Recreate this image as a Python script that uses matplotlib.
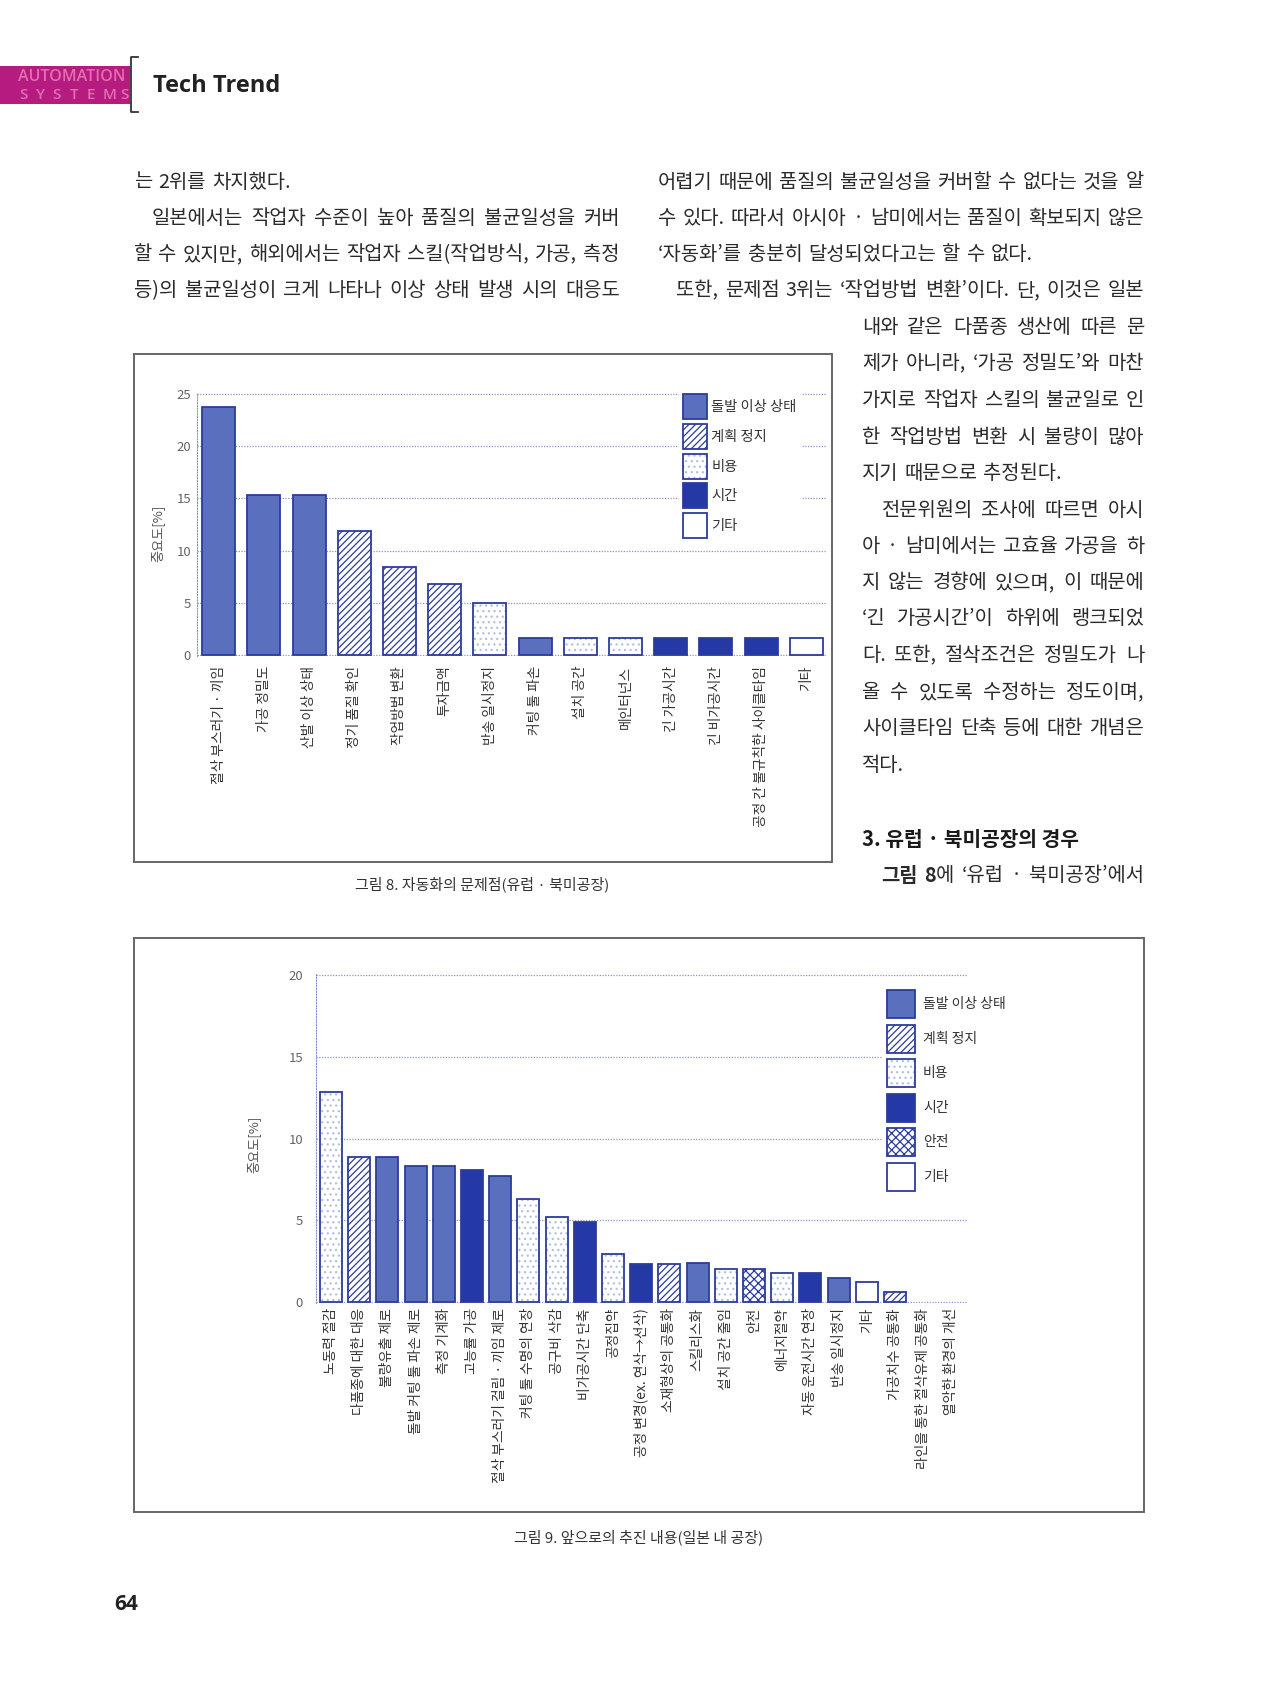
import matplotlib
matplotlib.use('Agg')
import numpy as np
import matplotlib.pyplot as plt
from matplotlib.patches import Patch, Rectangle
from matplotlib.lines import Line2D

plt.rcParams['font.family'] = ['Noto Sans CJK KR', 'DejaVu Sans']
plt.rcParams['hatch.linewidth'] = 0.9

W, H = 1279, 1705

# ---- figure 8: problems of automation (Europe / North America)
cats8 = ['절삭 부스러기 · 끼임', '가공 정밀도', '산발 이상 상태', '정기 품질 확인', '작업방법 변환',
         '투자금액', '반송 일시정지', '커팅 툴 파손', '설치 공간', '메인터넌스', '긴 가공시간',
         '긴 비가공시간', '공정 간 불규칙한 사이클타임', '기타']
vals8 = [23.7, 15.3, 15.3, 11.9, 8.45, 6.8, 5.0, 1.65, 1.65, 1.65, 1.65, 1.65, 1.65, 1.65]
kind8 = ['돌발 이상 상태', '돌발 이상 상태', '돌발 이상 상태', '계획 정지', '계획 정지', '계획 정지',
         '비용', '돌발 이상 상태', '비용', '비용', '시간', '시간', '시간', '기타']
legend8 = ['돌발 이상 상태', '계획 정지', '비용', '시간', '기타']

# ---- figure 9: future measures (factories in Japan)
cats9 = ['노동력 절감', '다품종에 대한 대응', '불량유출 제로', '돌발 커팅 툴 파손 제로', '측정 기계화',
         '고능률 가공', '절삭 부스러기 걸림 · 끼임 제로', '커팅 툴 수명의 연장', '공구비 삭감',
         '비가공시간 단축', '공정집약', '공정 변경(ex. 연삭→선삭)', '소재형상의 공통화', '스킬리스화',
         '설치 공간 줄임', '안전', '에너지절약', '자동 운전시간 연장', '반송 일시정지', '기타',
         '가공치수 공통화', '라인을 통한 절삭유제 공통화', '열악한 환경의 개선']
vals9 = [12.85, 8.87, 8.87, 8.3, 8.3, 8.04, 7.73, 6.32, 5.16, 4.9, 2.9, 2.33, 2.29, 2.35,
         2.02, 2.02, 1.76, 1.76, 1.48, 1.19, 0.59, 0.0, 0.0]
kind9 = ['비용', '계획 정지', '돌발 이상 상태', '돌발 이상 상태', '돌발 이상 상태', '시간',
         '돌발 이상 상태', '비용', '비용', '시간', '비용', '시간', '계획 정지', '돌발 이상 상태',
         '비용', '안전', '비용', '시간', '돌발 이상 상태', '기타', '계획 정지', '계획 정지', '기타']
legend9 = ['돌발 이상 상태', '계획 정지', '비용', '시간', '안전', '기타']

EDGE = '#2c3c9c'
styles = {
    '돌발 이상 상태': dict(face='#5b6fbf', hatch=None, hc='#5b6fbf'),
    '계획 정지': dict(face='white', hatch='/////', hc='#2c3c9c'),
    '비용': dict(face='white', hatch='...', hc='#b4bfe3'),
    '시간': dict(face='#2539a6', hatch=None, hc='#2539a6'),
    '안전': dict(face='white', hatch='xxxx', hc='#2c3c9c'),
    '기타': dict(face='white', hatch=None, hc='white'),
}
GRID = '#8595cc'
TXT = '#2a2a2a'

fig = plt.figure(figsize=(W / 100, H / 100), dpi=100)
fig.patch.set_facecolor('white')


def fx(x):
    return x / W


def fy(y):
    return 1 - y / H


def draw_bars(ax, vals, kinds, width):
    x = np.arange(len(vals))
    vals = np.array(vals)
    kinds = np.array(kinds)
    for k, st in styles.items():
        m = (kinds == k) & (vals > 0)
        if m.any():
            ax.bar(x[m], vals[m], width=width, color=st['face'], edgecolor=st['hc'],
                   linewidth=0, hatch=st['hatch'], zorder=2)
    m = vals > 0
    ax.bar(x[m], vals[m], width=width, color='none', edgecolor=EDGE, linewidth=1.3, zorder=3)


def handles(keys):
    hs = []
    for k in keys:
        st = styles[k]
        fill = Patch(facecolor=st['face'], edgecolor=st['hc'], linewidth=0, hatch=st['hatch'])
        out = Patch(facecolor='none', edgecolor=EDGE, linewidth=1.3)
        hs.append((fill, out))
    return hs


def style_axes(ax, ymax, ypad, xpad, xsize):
    ax.set_ylim(-0.08, ymax + 0.08)
    ax.set_yticks(np.arange(0, ymax + 1, 5))
    ax.yaxis.grid(True, color=GRID, linestyle=(0, (1, 1.2)), linewidth=0.9)
    ax.set_axisbelow(True)
    for s in ['top', 'right', 'bottom']:
        ax.spines[s].set_visible(False)
    ax.spines['left'].set_color(GRID)
    ax.spines['left'].set_linestyle((0, (1, 1.5)))
    ax.spines['left'].set_linewidth(0.8)
    ax.tick_params(axis='y', length=0, labelsize=9.5, labelcolor='#666', pad=ypad)
    ax.tick_params(axis='x', length=0, labelsize=xsize, labelcolor='#333', pad=xpad,
                   labelrotation=90)
    ax.set_facecolor('none')


# ---------------- header
fig.add_artist(Rectangle((0, fy(104)), fx(130), 38 / H, transform=fig.transFigure,
                         color='#b61b80', lw=0))
fig.text(fx(18), fy(77), 'AUTOMATION', color='#e070b2', fontsize=11.5, weight='semibold',
         family='Open Sans', va='center')
for i, ch in enumerate('SYSTEMS'):
    fig.text(fx(19 + i * 16.8), fy(95), ch, color='#e070b2', fontsize=11, weight='semibold',
             family='Open Sans', va='center')
fig.add_artist(Line2D([fx(138), fx(131), fx(131), fx(138)], [fy(57), fy(57), fy(112), fy(112)],
                      transform=fig.transFigure, color='#333', lw=1.3))
fig.text(fx(153), fy(86), 'Tech Trend', fontsize=17, weight='bold', family='Open Sans',
         va='center', color='#222')
fig.text(fx(114), fy(1605), '64', fontsize=15, weight='bold', family='Open Sans',
         va='center', color='#222')

# ---------------- body text (justified)
FS = 14.3
r = fig.canvas.get_renderer()


def tw(s, wt):
    t = fig.text(0, 0, s, fontsize=FS, weight=wt)
    w = t.get_window_extent(renderer=r).width
    t.remove()
    return w


def body(words, x0, y, x1=None):
    ws = [w if isinstance(w, list) else [(w, 'normal')] for w in words]
    wd = [[tw(s, wt) for s, wt in w] for w in ws]
    tot = [sum(a) for a in wd]
    gap = FS * 1.39 * 0.3 if x1 is None else (x1 - x0 - sum(tot)) / (len(ws) - 1)
    x = x0
    for w, d in zip(ws, wd):
        for (s, wt), dd in zip(w, d):
            fig.text(fx(x), fy(y), s, fontsize=FS, weight=wt, color=TXT, va='center', ha='left')
            x += dd
        x += gap


body('는 2위를 차지했다.'.split(), 134, 182)
body('일본에서는 작업자 수준이 높아 품질의 불균일성을 커버'.split(), 152, 218.6, 620)
body('할 수 있지만, 해외에서는 작업자 스킬(작업방식, 가공, 측정'.split(), 134, 254.5, 620)
body('등)의 불균일성이 크게 나타나 이상 상태 발생 시의 대응도'.split(), 134, 290.4, 620)

body('어렵기 때문에 품질의 불균일성을 커버할 수 없다는 것을 알'.split(), 658, 182, 1144)
body('수 있다. 따라서 아시아 · 남미에서는 품질이 확보되지 않은'.split(), 658, 218.6, 1144)
body('‘자동화’를 충분히 달성되었다고는 할 수 없다.'.split(), 658, 254.5)
body('또한, 문제점 3위는 ‘작업방법 변환’이다. 단, 이것은 일본'.split(), 676, 290.4, 1144)

narrow = [
    ('내와 같은 다품종 생산에 따른 문', 862, 327.4, True),
    ('제가 아니라, ‘가공 정밀도’와 마찬', 862, 363.3, True),
    ('가지로 작업자 스킬의 불균일로 인', 862, 400.2, True),
    ('한 작업방법 변환 시 불량이 많아', 862, 437.2, True),
    ('지기 때문으로 추정된다.', 862, 473.1, False),
    ('전문위원의 조사에 따르면 아시', 882, 510.1, True),
    ('아 · 남미에서는 고효율 가공을 하', 862, 546, True),
    ('지 않는 경향에 있으며, 이 때문에', 862, 583, True),
    ('‘긴 가공시간’이 하위에 랭크되었', 862, 618.8, True),
    ('다. 또한, 절삭조건은 정밀도가 나', 862, 655.8, True),
    ('올 수 있도록 수정하는 정도이며,', 862, 692.8, True),
    ('사이클타임 단축 등에 대한 개념은', 862, 728.7, True),
    ('적다.', 862, 765.7, False),
]
for s, x0, y, just in narrow:
    body(s.split(), x0, y, 1144 if just else None)

fig.text(fx(862), fy(839.6), '3. 유럽 · 북미공장의 경우', fontsize=14.6, weight='bold',
         color='#1a1a1a', va='center')
body([[('그림', 'bold')], [('8', 'bold'), ('에', 'normal')], '‘유럽', '·', '북미공장’에서'],
     881, 875.5, 1144)

# ---------------- chart boxes and captions
for (x0, y0, x1, y1) in [(134, 353.5, 832, 862), (134, 937.5, 1144, 1512)]:
    fig.add_artist(Rectangle((fx(x0), fy(y1)), (x1 - x0) / W, (y1 - y0) / H,
                             transform=fig.transFigure, facecolor='none',
                             edgecolor='#666', lw=1.4))
fig.text(fx(482), fy(884), '그림 8. 자동화의 문제점(유럽 · 북미공장)', fontsize=10.8,
         color='#333', ha='center', va='center')
fig.text(fx(639), fy(1537), '그림 9. 앞으로의 추진 내용(일본 내 공장)', fontsize=10.8,
         color='#333', ha='center', va='center')

# ---------------- chart 1
ax1 = fig.add_axes([fx(197), fy(656), 630 / W, 263 / H])
draw_bars(ax1, vals8, kind8, 0.73)
ax1.set_xlim(-0.48, len(cats8) - 0.54)
ax1.set_xticks(np.arange(len(cats8)), cats8)
style_axes(ax1, 25, 4.3, 7, 9.9)
ax1.set_ylabel('중요도[%]', fontsize=9.5, color='#555')
ax1.yaxis.set_label_coords(-0.052, 0.468)
ax1.legend(handles(legend8), legend8, loc='upper left',
           bbox_to_anchor=(fx(679), fy(390)), bbox_transform=fig.transFigure,
           fontsize=10.3, handlelength=1.65, handleheight=2.33, labelspacing=0.31,
           handletextpad=0.3, borderpad=0.3, borderaxespad=0, frameon=True,
           fancybox=False, facecolor='white', edgecolor='none', framealpha=1,
           labelcolor='#333')

# ---------------- chart 2
ax2 = fig.add_axes([fx(316), fy(1303), 651 / W, 329 / H])
draw_bars(ax2, vals9, kind9, 0.78)
ax2.set_xlim(-0.53, len(cats9) - 0.45)
ax2.set_xticks(np.arange(len(cats9)), cats9)
style_axes(ax2, 20, 9.4, 3.6, 9.9)
ax2.set_ylabel('중요도[%]', fontsize=9.5, color='#555')
ax2.yaxis.set_label_coords(-0.085, 0.483)
ax2.legend(handles(legend9), legend9, loc='upper left',
           bbox_to_anchor=(fx(883), fy(986)), bbox_transform=fig.transFigure,
           fontsize=10, handlelength=2.0, handleheight=2.72, labelspacing=0.47,
           handletextpad=0.58, borderpad=0.3, borderaxespad=0, frameon=True,
           fancybox=False, facecolor='white', edgecolor='none', framealpha=1,
           labelcolor='#333')

fig.savefig('out.png', dpi=100, facecolor='white')
